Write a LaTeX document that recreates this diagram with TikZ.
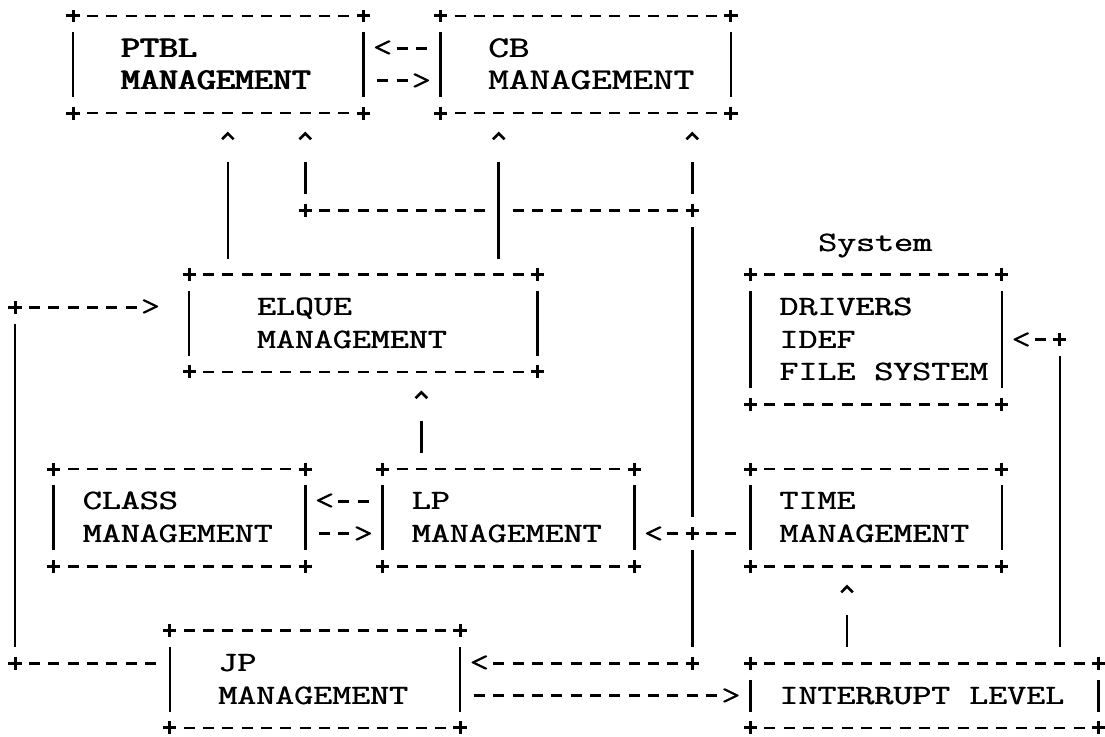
\documentclass[tikz,border=0pt]{standalone}
\usepackage{graphicx}

% typewriter text, stretched so that one character fills one grid cell;
% every line is struck twice, slightly shifted, as a typewriter would
\newcommand\monotext[1]{{\fontsize{28}{28}\selectfont\ttfamily\scalebox{1.316}[1]{\rlap{#1}\hspace{0.45pt}#1}}}
\newcommand\monobold[1]{{\fontsize{30}{30}\selectfont\ttfamily\scalebox{1.229}[1]{\rlap{#1}\hspace{0.55pt}\rlap{#1}\hspace{0.55pt}#1}}}
\newcommand\monowide[1]{{\fontsize{30}{30}\selectfont\ttfamily\scalebox{1.333}[1]{\rlap{#1}\hspace{0.45pt}#1}}}

% grid helpers: columns and rows of the character grid
\newcommand\hdash[3]{\draw[dashrun] ({#1-0.2842},#3) -- ({#2+0.2842},#3);}
\newcommand\vbar[3]{\draw[barrun] (#1,{#2-0.4944}) -- (#1,{#3+0.4944});}
\newcommand\plus[2]{\draw[plusmk] ({#1-0.34},#2) -- ({#1+0.34},#2) (#1,{#2-0.2}) -- (#1,{#2+0.2});}
\newcommand\caret[2]{\draw[caretmk] ({#1-0.3},{#2-0.19}) -- (#1,{#2-0.37}) -- ({#1+0.3},{#2-0.19});}
\newcommand\lbl[4]{\node[glyph] (#1) at ({#2-0.5},{#3+0.265}) {\monotext{#4}};}

\begin{document}
\begin{tikzpicture}[x=19.35pt, y=-32.36pt,
  dashrun/.style={line width=2.8pt, dash pattern=on 11pt off 8.35pt},
  barrun/.style={line width=2.6pt},
  plusmk/.style={line width=3pt},
  caretmk/.style={line width=2.6pt, miter limit=2},
  glyph/.style={anchor=base west, inner sep=0pt, outer sep=0pt}]
\useasboundingbox[fill=white] (-0.7752,-0.4944) rectangle (56.3307,22.2497);

% PTBL and CB boxes
\plus{3}{0}\hdash{4}{17}{0}\plus{18}{0}
\plus{22}{0}\hdash{23}{36}{0}\plus{37}{0}
\vbar{3}{1}{2}\vbar{18}{1}{2}\vbar{22}{1}{2}\vbar{37}{1}{2}
\plus{3}{3}\hdash{4}{17}{3}\plus{18}{3}
\plus{22}{3}\hdash{23}{36}{3}\plus{37}{3}
\node[glyph] (ptblA) at (5.45,1.284) {\monobold{PTBL}};
\node[glyph] (ptblB) at (5.45,2.284) {\monobold{MANAGEMENT}};
\node[glyph] (cbA) at (24.45,1.284) {\monowide{CB}};
\node[glyph] (cbB) at (24.45,2.284) {\monowide{MANAGEMENT}};
\lbl{cbToPtbl}{19}{1}{<}\hdash{20}{21}{1}
\hdash{19}{20}{2}\lbl{ptblToCb}{21}{2}{>}

% risers into PTBL and CB
\caret{11}{4}\caret{15}{4}\caret{25}{4}\caret{35}{4}
\vbar{11}{5}{7}\vbar{15}{5}{5}\vbar{25}{5}{7}\vbar{35}{5}{5}
\plus{15}{6}\hdash{16}{24}{6}\hdash{26}{34}{6}\plus{35}{6}
\vbar{35}{7}{15}

% ELQUE box
\plus{9}{8}\hdash{10}{26}{8}\plus{27}{8}
\vbar{9}{9}{10}\vbar{27}{9}{10}
\plus{9}{11}\hdash{10}{26}{11}\plus{27}{11}
\lbl{elqueA}{13}{9}{ELQUE}
\lbl{elqueB}{13}{10}{MANAGEMENT}
\plus{0}{9}\hdash{1}{6}{9}\lbl{toElque}{7}{9}{>}
\vbar{0}{10}{19}

% System box
\lbl{sysTitle}{42}{7}{System}
\plus{38}{8}\hdash{39}{50}{8}\plus{51}{8}
\vbar{38}{9}{11}\vbar{51}{9}{11}
\plus{38}{12}\hdash{39}{50}{12}\plus{51}{12}
\lbl{sysA}{40}{9}{DRIVERS}
\lbl{sysB}{40}{10}{IDEF}
\lbl{sysC}{40}{11}{FILE SYSTEM}
\lbl{toSys}{52}{10}{<}\hdash{53}{53}{10}\plus{54}{10}
\vbar{54}{11}{19}

% LP up to ELQUE
\caret{21}{12}
\vbar{21}{13}{13}

% CLASS box
\plus{2}{14}\hdash{3}{14}{14}\plus{15}{14}
\vbar{2}{15}{16}\vbar{15}{15}{16}
\plus{2}{17}\hdash{3}{14}{17}\plus{15}{17}
\lbl{classA}{4}{15}{CLASS}
\lbl{classB}{4}{16}{MANAGEMENT}

% LP box
\plus{19}{14}\hdash{20}{31}{14}\plus{32}{14}
\vbar{19}{15}{16}\vbar{32}{15}{16}
\plus{19}{17}\hdash{20}{31}{17}\plus{32}{17}
\lbl{lpA}{21}{15}{LP}
\lbl{lpB}{21}{16}{MANAGEMENT}
\lbl{lpToClass}{16}{15}{<}\hdash{17}{18}{15}
\hdash{16}{17}{16}\lbl{classToLp}{18}{16}{>}

% TIME box
\plus{38}{14}\hdash{39}{50}{14}\plus{51}{14}
\vbar{38}{15}{16}\vbar{51}{15}{16}
\plus{38}{17}\hdash{39}{50}{17}\plus{51}{17}
\lbl{timeA}{40}{15}{TIME}
\lbl{timeB}{40}{16}{MANAGEMENT}
\lbl{toLp}{33}{16}{<}\hdash{34}{34}{16}\plus{35}{16}\hdash{36}{37}{16}
\vbar{35}{17}{19}
\caret{43}{18}
\vbar{43}{19}{19}

% JP box
\plus{8}{19}\hdash{9}{22}{19}\plus{23}{19}
\vbar{8}{20}{21}\vbar{23}{20}{21}
\plus{8}{22}\hdash{9}{22}{22}\plus{23}{22}
\lbl{jpA}{11}{20}{JP}
\lbl{jpB}{11}{21}{MANAGEMENT}
\plus{0}{20}\hdash{1}{7}{20}
\lbl{toJp}{24}{20}{<}\hdash{25}{34}{20}\plus{35}{20}
\hdash{24}{36}{21}\lbl{toInt}{37}{21}{>}

% INTERRUPT LEVEL box
\plus{38}{20}\hdash{39}{55}{20}\plus{56}{20}
\vbar{38}{21}{21}\vbar{56}{21}{21}
\plus{38}{22}\hdash{39}{55}{22}\plus{56}{22}
\lbl{intA}{40}{21}{INTERRUPT LEVEL}
\end{tikzpicture}
\end{document}
